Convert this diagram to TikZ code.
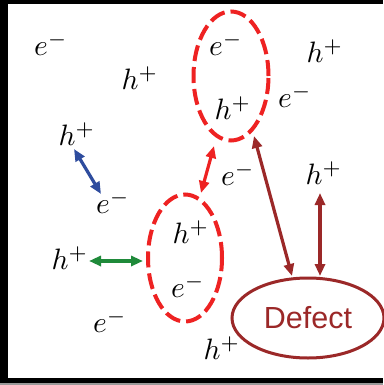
\documentclass[tikz,border=0pt]{standalone}
\usepackage{graphicx}
\usepackage{fontspec}
\newfontfamily\sansf{Liberation Sans}
\usetikzlibrary{arrows.meta,shapes.geometric}
\definecolor{exred}{HTML}{EE2222}
\definecolor{dbrown}{HTML}{9B2828}
\definecolor{dblue}{HTML}{2E4C9E}
\definecolor{dgreen}{HTML}{1F8A3A}
\newcommand{\carrier}[1]{\scalebox{2.95}{$#1$}}
\tikzset{
  lbl/.style={inner sep=0pt},
  pair/.style={draw=exred, line width=4pt, dash pattern=on 16pt off 6pt},
  dbl/.style={line width=3.2pt, {Triangle[length=12pt,width=10pt]}-{Triangle[length=12pt,width=10pt]}},
}
\begin{document}
\begin{tikzpicture}[x=1pt,y=1pt]
\useasboundingbox (0,0) rectangle (383,-385);
% frame
\fill[black] (0,0) rectangle (383,-385);
\fill[white] (8,-4) rectangle (383,-378);
\fill[black!40] (0,-383) rectangle (383,-385);
% labels
\node[lbl] (e1) at (51,-44) {\carrier{e^-}};
\node[lbl] (h1) at (140,-78) {\carrier{h^+}};
\node[lbl] (e2) at (226,-44) {\carrier{e^-}};
\node[lbl] (h2) at (233,-108) {\carrier{h^+}};
\node[lbl] (h3) at (325,-51) {\carrier{h^+}};
\node[lbl] (e3) at (295,-96) {\carrier{e^-}};
\node[lbl] (h4) at (77,-134) {\carrier{h^+}};
\node[lbl] (e4) at (113,-202) {\carrier{e^-}};
\node[lbl] (e5) at (238,-174) {\carrier{e^-}};
\node[lbl] (h5) at (324,-173) {\carrier{h^+}};
\node[lbl] (h6) at (191,-232) {\carrier{h^+}};
\node[lbl] (e6) at (188,-286) {\carrier{e^-}};
\node[lbl] (h7) at (70,-258) {\carrier{h^+}};
\node[lbl] (e7) at (110,-321) {\carrier{e^-}};
\node[lbl] (h8) at (222,-348) {\carrier{h^+}};
% ellipses
\node[ellipse, pair, minimum width=75pt, minimum height=129pt, inner sep=0pt] (top) at (231,-76) {};
\node[ellipse, pair, minimum width=74pt, minimum height=127pt, inner sep=0pt] (bot) at (185,-258) {};
\node[ellipse, draw=dbrown, line width=3pt, minimum width=152pt, minimum height=80pt, inner sep=0pt,
      text=dbrown, font=\sansf\fontsize{30.5}{34}\selectfont] (def) at (308,-318) {Defect};
% arrow end points
\coordinate (b1) at (74,-149);
\coordinate (b2) at (101,-194);
\coordinate (r1) at (214,-146);
\coordinate (r2) at (201,-193);
\coordinate (g1) at (89,-261);
\coordinate (g2) at (143,-261);
\coordinate (m1) at (254,-136);
\coordinate (m2) at (292,-276);
\coordinate (v1) at (320,-193);
\coordinate (v2) at (320,-276);
\draw[dbl, draw=dblue, fill=dblue] (b1) -- (b2);
\draw[dbl, draw=exred, fill=exred] (r1) -- (r2);
\draw[dbl, draw=dgreen, fill=dgreen] (g1) -- (g2);
\draw[dbl, draw=dbrown, fill=dbrown] (m1) -- (m2);
\draw[dbl, draw=dbrown, fill=dbrown] (v1) -- (v2);
\end{tikzpicture}
\end{document}
